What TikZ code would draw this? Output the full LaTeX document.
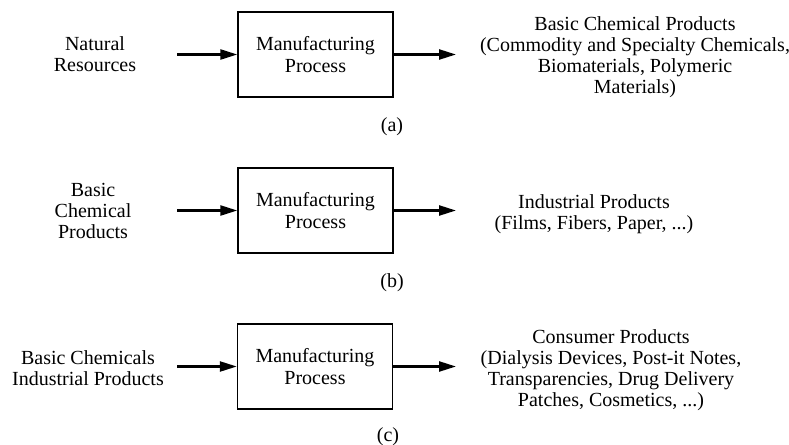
\documentclass[tikz,border=0pt]{standalone}
\usepackage{fontspec}
\setmainfont{Liberation Serif}
\usetikzlibrary{arrows.meta}
\begin{document}
\begin{tikzpicture}[x=0.5pt,y=-0.5pt,
  proc/.style={draw,line width=0.7pt,minimum width=77.5pt,minimum height=42.5pt,align=center,inner sep=0pt,font=\fontsize{10}{11}\selectfont},
  txt/.style={align=center,inner sep=0pt,font=\fontsize{10}{10.5}\selectfont},
  flow/.style={-{Triangle[length=8.5pt,width=5pt]},line width=1.2pt},
]
\useasboundingbox (0,0) rectangle (789,445);
% panel (a)
\node[proc] (pa) at (315.5,54.5) {Manufacturing\\Process};
\node[txt] (ina) at (95,54) {Natural\\Resources};
\node[txt] (outa) at (635,57.5) {Basic Chemical Products\\(Commodity and Specialty Chemicals,\\Biomaterials, Polymeric\\Materials)};
\node[txt] (la) at (392,127) {(a)};
\coordinate (sa) at (177,54.5);
\coordinate (ea) at (456,54.5);
\draw[flow] (sa) -- (pa.west);
\draw[flow] (pa.east) -- (ea);
% panel (b)
\node[proc] (pb) at (315.5,210.5) {Manufacturing\\Process};
\node[txt] (inb) at (93,211) {Basic\\Chemical\\Products};
\node[txt] (outb) at (594,214) {Industrial Products\\(Films, Fibers, Paper, ...)};
\node[txt] (lb) at (392,283) {(b)};
\coordinate (sb) at (177,210.5);
\coordinate (eb) at (456,210.5);
\draw[flow] (sb) -- (pb.west);
\draw[flow] (pb.east) -- (eb);
% panel (c)
\node[proc] (pc) at (315,366.5) {Manufacturing\\Process};
\node[txt] (inc) at (88,368) {Basic Chemicals\\Industrial Products};
\node[txt] (outc) at (611,370) {Consumer Products\\(Dialysis Devices, Post-it Notes,\\Transparencies, Drug Delivery\\Patches, Cosmetics, ...)};
\node[txt] (lc) at (388,437) {(c)};
\coordinate (sc) at (177,366.5);
\coordinate (ec) at (456,366.5);
\draw[flow] (sc) -- (pc.west);
\draw[flow] (pc.east) -- (ec);
\end{tikzpicture}
\end{document}
